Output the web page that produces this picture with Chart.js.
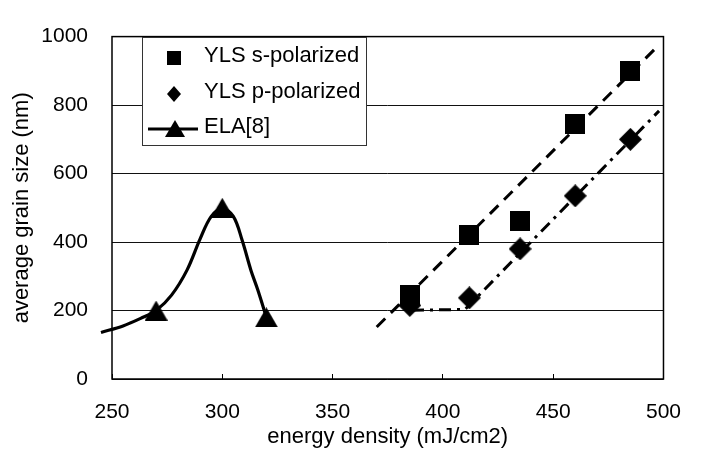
<!DOCTYPE html>
<html>
<head>
<meta charset="utf-8">
<script src="https://cdn.jsdelivr.net/npm/chart.js@4/dist/chart.umd.min.js"></script>
<style>
  html, body { margin: 0; padding: 0; background: #fff; }
  #wrap { width: 707px; height: 450px; }
</style>
</head>
<body>
<div id="wrap"><canvas id="grainChart" width="707" height="450"></canvas></div>
<script>
'use strict';

// YLS measurements
const sPolX = [385, 412, 435, 460, 485];
const sPolY = [245, 420, 460, 745, 900];
const pPolX = [385, 412, 435, 460, 485];
const pPolY = [215, 237, 380, 535, 700];

// ELA[8] marked points and the curve through them
const elaX = [270, 300, 320];
const elaY = [200, 500, 180];
const elaCurveX = [245, 255, 263, 270, 277, 284, 290, 295, 300, 305, 309, 313, 316, 320];
const elaCurveY = [136, 155, 177, 200, 245, 318, 410, 475, 497, 475, 405, 317, 262, 180];

// guide lines
const sFitX = [370, 498];
const sFitY = [152, 976];
const pFitX = [386, 410, 498];
const pFitY = [201, 203, 783];

const xTicks = [250, 300, 350, 400, 450, 500];
const yTicks = [0, 200, 400, 600, 800, 1000];

const FONT = "'Liberation Sans', Arial, sans-serif";

function pts(xs, ys) {
    return xs.map((x, i) => ({x: x, y: ys[i]}));
}

// filled black marker shapes, centred on their box
function marker(kind, w, h) {
    const c = document.createElement('canvas');
    c.width = w;
    c.height = h;
    const g = c.getContext('2d');
    g.fillStyle = '#000';
    g.beginPath();
    if (kind === 'square') {
        g.rect(0, 0, w, h);
    } else if (kind === 'diamond') {
        g.moveTo(w / 2, 0);
        g.lineTo(w, h / 2);
        g.lineTo(w / 2, h);
        g.lineTo(0, h / 2);
    } else {
        g.moveTo(w / 2, 0);
        g.lineTo(w, h);
        g.lineTo(0, h);
    }
    g.closePath();
    g.fill();
    return c;
}

const squareMark = marker('square', 20, 20);
const diamondMark = marker('diamond', 23, 23);
const triangleMark = marker('triangle', 23, 20);

// box round the plot area
const frame = {
    id: 'frame',
    beforeDatasetsDraw(chart) {
        const {ctx, chartArea: a} = chart;
        ctx.save();
        ctx.strokeStyle = '#000';
        ctx.lineWidth = 1.5;
        ctx.strokeRect(a.left, a.top, a.right - a.left, a.bottom - a.top);
        ctx.restore();
    }
};

// legend box inside the plot
const insetLegend = {
    id: 'insetLegend',
    afterDatasetsDraw(chart) {
        const ctx = chart.ctx;
        ctx.save();
        ctx.fillStyle = '#fff';
        ctx.fillRect(142, 37, 224, 108);
        ctx.strokeStyle = '#333';
        ctx.lineWidth = 1;
        ctx.strokeRect(142.5, 37.5, 224, 108);

        ctx.fillStyle = '#000';
        ctx.fillRect(167, 51, 14, 14);

        ctx.beginPath();
        ctx.moveTo(174, 86);
        ctx.lineTo(181, 94);
        ctx.lineTo(174, 102);
        ctx.lineTo(167, 94);
        ctx.closePath();
        ctx.fill();

        ctx.strokeStyle = '#000';
        ctx.lineWidth = 3;
        ctx.beginPath();
        ctx.moveTo(148, 129);
        ctx.lineTo(198, 129);
        ctx.stroke();
        ctx.beginPath();
        ctx.moveTo(175, 120);
        ctx.lineTo(185, 137);
        ctx.lineTo(165, 137);
        ctx.closePath();
        ctx.fill();

        ctx.font = '22px ' + FONT;
        ctx.textAlign = 'left';
        ctx.textBaseline = 'middle';
        ctx.fillText('YLS s-polarized', 204, 56);
        ctx.fillText('YLS p-polarized', 204, 91.5);
        ctx.fillText('ELA[8]', 204, 127);
        ctx.restore();
    }
};

const chart = document.getElementById('grainChart');
const grainChart = new Chart(chart, {
    type: 'scatter',
    data: {
        datasets: [{
            label: 'YLS s-polarized',
            data: pts(sPolX, sPolY),
            pointStyle: squareMark,
            pointRadius: 10,
        }, {
            label: 'YLS p-polarized',
            data: pts(pPolX, pPolY),
            pointStyle: diamondMark,
            pointRadius: 10,
        }, {
            label: 'ELA[8]',
            data: pts(elaX, elaY),
            pointStyle: triangleMark,
            pointRadius: 10,
        }, {
            label: 'ELA[8] curve',
            data: pts(elaCurveX, elaCurveY),
            showLine: true,
            borderColor: '#000',
            borderWidth: 3.2,
            tension: 0.35,
            pointRadius: 0,
            clip: false,
        }, {
            label: 's fit',
            data: pts(sFitX, sFitY),
            showLine: true,
            borderColor: '#000',
            borderWidth: 3,
            borderDash: [12, 8],
            pointRadius: 0,
        }, {
            label: 'p fit',
            data: pts(pFitX, pFitY),
            showLine: true,
            borderColor: '#000',
            borderWidth: 3,
            borderDash: [12, 6, 3, 6],
            pointRadius: 0,
        }],
    },
    options: {
        responsive: false,
        animation: false,
        layout: {
            padding: {left: 0, right: 18, top: 25, bottom: 0},
        },
        plugins: {
            legend: {display: false},
            tooltip: {enabled: false},
        },
        scales: {
            x: {
                type: 'linear',
                min: 250,
                max: 500,
                afterBuildTicks: (scale) => { scale.ticks = xTicks.map(v => ({value: v})); },
                afterFit: (scale) => { scale.height = 71; },
                grid: {
                    drawOnChartArea: false,
                    drawTicks: true,
                    tickLength: -5,
                    color: '#000',
                    lineWidth: 1,
                },
                border: {display: false},
                ticks: {
                    color: '#000',
                    padding: 26,
                    maxRotation: 0,
                    callback: (v) => String(v),
                    font: {family: FONT, size: 21},
                },
                title: {
                    display: true,
                    text: 'energy density (mJ/cm2)',
                    color: '#000',
                    padding: {top: 0, bottom: 0},
                    font: {family: FONT, size: 22},
                },
            },
            y: {
                min: 0,
                max: 1000,
                afterBuildTicks: (scale) => { scale.ticks = yTicks.map(v => ({value: v})); },
                afterFit: (scale) => { scale.width = 112; },
                grid: {
                    drawTicks: false,
                    color: '#111',
                    lineWidth: 1,
                },
                border: {display: false},
                ticks: {
                    color: '#000',
                    padding: 24,
                    callback: (v) => String(v),
                    font: {family: FONT, size: 21},
                },
                title: {
                    display: true,
                    text: 'average grain size (nm)',
                    color: '#000',
                    padding: {top: 9, bottom: 0},
                    font: {family: FONT, size: 22},
                },
            },
        },
    },
    plugins: [frame, insetLegend],
});
</script>
</body>
</html>
